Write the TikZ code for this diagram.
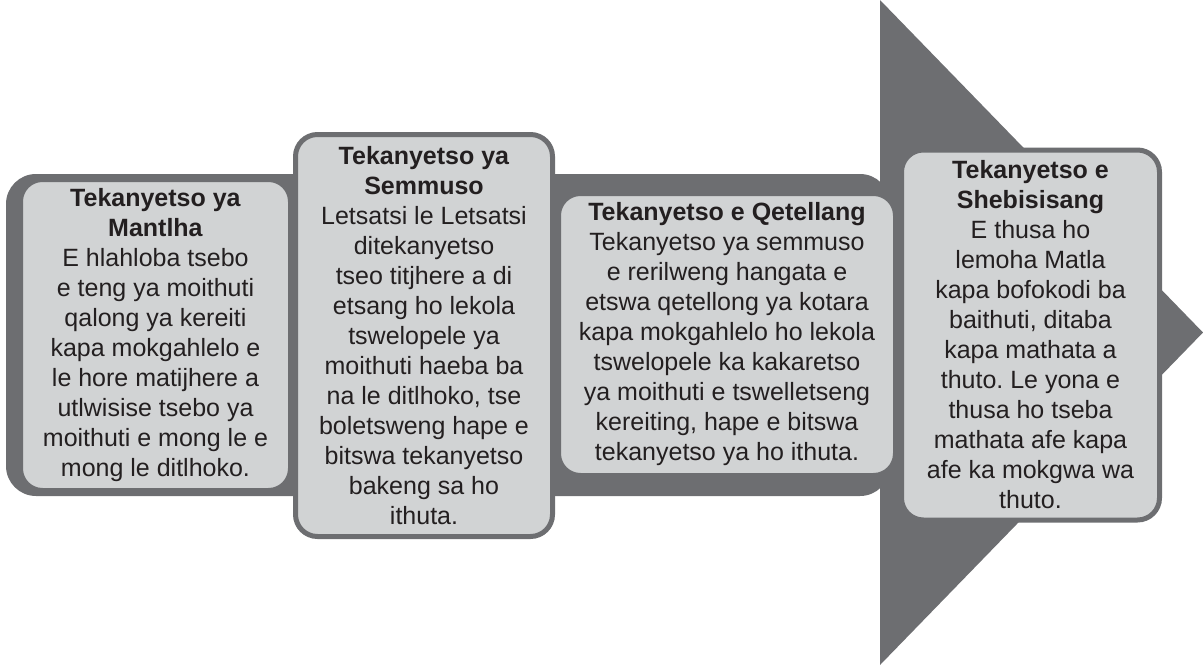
\documentclass[tikz,border=0pt]{standalone}
\usepackage{fontspec}
\setmainfont{Liberation Sans}
\definecolor{dk}{HTML}{6D6E71}
\definecolor{lt}{HTML}{D1D3D4}
\definecolor{tx}{HTML}{231F20}
\frenchspacing
\begin{document}
\begin{tikzpicture}[x=1pt,y=-1pt,
  stepbox/.style={draw=dk, line width=5pt, fill=lt, rounded corners=22pt, inner sep=0pt,
    align=center, text=tx, font=\fontsize{25}{30}\selectfont}]
\useasboundingbox (0,0) rectangle (1203,665);
% arrow head and body
\fill[dk] (880,0) -- (1203,332.5) -- (880,665) -- cycle;
\fill[dk, rounded corners=30pt] (6,174) rectangle (890,496);
% boxes
\node[stepbox, minimum width=270pt, minimum height=311pt] (b1) at (155.5,335)
 {\textbf{Tekanyetso ya}\\\textbf{Mantlha}\\E hlahloba tsebo\\e teng ya moithuti\\qalong ya kereiti\\kapa mokgahlelo e\\le hore matijhere a\\utlwisise tsebo ya\\moithuti e mong le e\\mong le ditlhoko.};
\node[stepbox, minimum width=257pt, minimum height=402pt] (b2) at (424,335.5)
 {\textbf{Tekanyetso ya}\\\textbf{Semmuso}\\Letsatsi le Letsatsi\\ditekanyetso\\tseo titjhere a di\\etsang ho lekola\\tswelopele ya\\moithuti haeba ba\\na le ditlhoko, tse\\boletsweng hape e\\bitswa tekanyetso\\bakeng sa ho\\ithuta.};
\node[stepbox, minimum width=337pt, minimum height=282pt] (b3) at (727,334.5)
 {\textbf{Tekanyetso e Qetellang}\\Tekanyetso ya semmuso\\e rerilweng hangata e\\etswa qetellong ya kotara\\kapa mokgahlelo ho lekola\\tswelopele ka kakaretso\\ya moithuti e tswelletseng\\kereiting, hape e bitswa\\tekanyetso ya ho ithuta.};
\node[stepbox, minimum width=258pt, minimum height=370pt] (b4) at (1030.5,335)
 {\textbf{Tekanyetso e}\\\textbf{Shebisisang}\\E thusa ho\\lemoha Matla\\kapa bofokodi ba\\baithuti, ditaba\\kapa mathata a\\thuto. Le yona e\\thusa ho tseba\\mathata afe kapa\\afe ka mokgwa wa\\thuto.};
\end{tikzpicture}
\end{document}
